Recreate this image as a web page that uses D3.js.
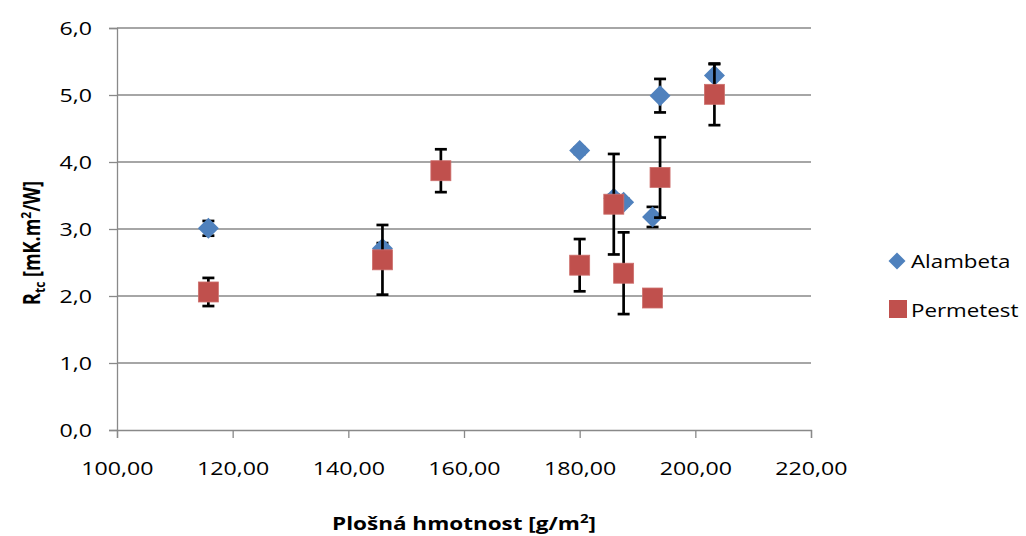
<!DOCTYPE html>
<html>
<head>
<meta charset="utf-8">
<script src="https://cdn.jsdelivr.net/npm/d3@7"></script>
<style>
  html, body { margin: 0; padding: 0; background: #fff; }
  svg { display: block; font-family: "Open Sans", "Noto Sans", sans-serif; }
</style>
</head>
<body>
<svg id="chart" width="1026" height="536"></svg>
<script>
// ---- data ----
const alambetaX   = [115.8, 145.9, 180.0, 185.9, 187.6, 192.6, 193.9, 203.3];
const alambetaY   = [3.01, 2.71, 4.17, 3.46, 3.40, 3.18, 4.99, 5.29];
const alambetaErr = [0.11, 0.08, 0.05, 0.05, 0.05, 0.15, 0.25, 0.17];

const permetestX   = [115.8, 145.9, 156.0, 180.0, 185.9, 187.6, 192.6, 193.9, 203.3];
const permetestY   = [2.06, 2.54, 3.87, 2.46, 3.37, 2.34, 1.97, 3.77, 5.01];
const permetestErr = [0.21, 0.52, 0.32, 0.39, 0.75, 0.61, 0.05, 0.60, 0.46];

const xTicks = [100, 120, 140, 160, 180, 200, 220];
const yTicks = [0, 1, 2, 3, 4, 5, 6];
const seriesNames = ["Alambeta", "Permetest"];
const seriesColors = ["#4F81BD", "#C0504D"];

// ---- layout ----
const svg = d3.select("#chart");
const plot = { left: 117, top: 28, right: 811, bottom: 430 };
const SX = 1.22; // horizontal stretch of the reference text

const x = d3.scaleLinear().domain([100, 220]).range([plot.left, plot.right]);
const y = d3.scaleLinear().domain([0, 6]).range([plot.bottom, plot.top]);

const fmtX = v => d3.format(".2f")(v).replace(".", ",");
const fmtY = v => d3.format(".1f")(v).replace(".", ",");
const gridColor = "#898989";

// gridlines
svg.append("g")
  .selectAll("line")
  .data(yTicks.filter(d => d > 0))
  .join("line")
  .attr("x1", plot.left).attr("x2", plot.right)
  .attr("y1", d => y(d)).attr("y2", d => y(d))
  .attr("stroke", gridColor).attr("stroke-width", 1.3);

// y axis
const yAxis = svg.append("g")
  .attr("transform", `translate(${plot.left},0)`)
  .call(d3.axisLeft(y).tickValues(yTicks).tickFormat(fmtY).tickSize(8).tickPadding(17));
// x axis
const xAxis = svg.append("g")
  .attr("transform", `translate(0,${plot.bottom})`)
  .call(d3.axisBottom(x).tickValues(xTicks).tickFormat(fmtX).tickSize(8).tickPadding(23));

[yAxis, xAxis].forEach(g => {
  g.select(".domain").attr("stroke", gridColor).attr("stroke-width", 1.3);
  g.selectAll(".tick line").attr("stroke", gridColor).attr("stroke-width", 1.3);
  g.selectAll(".tick text")
    .attr("fill", "#000")
    .style("font-family", '"Open Sans", sans-serif')
    .style("font-size", "19px");
});
// apply horizontal stretch to tick labels
yAxis.selectAll(".tick text").each(function () {
  const t = d3.select(this);
  const xv = +t.attr("x");
  t.attr("x", 0).attr("transform", `translate(${xv},0) scale(${SX},1)`);
});
xAxis.selectAll(".tick text").each(function () {
  const t = d3.select(this);
  const yv = +t.attr("y");
  t.attr("y", 0).attr("transform", `translate(0,${yv}) scale(${SX},1)`);
});

// series drawing helpers
const alambeta = alambetaX.map((v, i) => ({ x: v, y: alambetaY[i], e: alambetaErr[i] }));
const permetest = permetestX.map((v, i) => ({ x: v, y: permetestY[i], e: permetestErr[i] }));

function errorBars(data) {
  const g = svg.append("g").attr("stroke", "#000").attr("stroke-width", 2.7).attr("fill", "none");
  const cap = 6;
  g.selectAll("line.v").data(data).join("line").attr("class", "v")
    .attr("x1", d => x(d.x)).attr("x2", d => x(d.x))
    .attr("y1", d => y(d.y - d.e)).attr("y2", d => y(d.y + d.e));
  g.selectAll("line.t").data(data).join("line").attr("class", "t")
    .attr("x1", d => x(d.x) - cap).attr("x2", d => x(d.x) + cap)
    .attr("y1", d => y(d.y + d.e)).attr("y2", d => y(d.y + d.e));
  g.selectAll("line.b").data(data).join("line").attr("class", "b")
    .attr("x1", d => x(d.x) - cap).attr("x2", d => x(d.x) + cap)
    .attr("y1", d => y(d.y - d.e)).attr("y2", d => y(d.y - d.e));
}

const diamondPath = r => `M0,${-r}L${r},0L0,${r}L${-r},0Z`;

// Alambeta
errorBars(alambeta);
svg.append("g").selectAll("path").data(alambeta).join("path")
  .attr("d", diamondPath(10.5))
  .attr("transform", d => `translate(${x(d.x)},${y(d.y)})`)
  .attr("fill", seriesColors[0]);

// Permetest
errorBars(permetest);
svg.append("g").selectAll("rect").data(permetest).join("rect")
  .attr("x", d => x(d.x) - 10).attr("y", d => y(d.y) - 10)
  .attr("width", 20).attr("height", 20)
  .attr("fill", seriesColors[1])
  .attr("stroke", "#CD6F6C").attr("stroke-width", 0.8);

// legend
const legend = svg.append("g");
legend.append("path").attr("d", diamondPath(8.5))
  .attr("transform", "translate(897,261)").attr("fill", seriesColors[0]);
legend.append("rect").attr("x", 889).attr("y", 300).attr("width", 18).attr("height", 18)
  .attr("fill", seriesColors[1]);
legend.selectAll("text").data(seriesNames).join("text")
  .attr("transform", (d, i) => `translate(911,${268 + i * 48.5}) scale(${SX},1)`)
  .style("font-size", "18.3px")
  .text(d => d);

// axis titles
const xt = svg.append("text")
  .attr("transform", `translate(464,530) scale(1.25,1)`)
  .attr("text-anchor", "middle")
  .style("font-weight", "bold").style("font-size", "18px");
xt.append("tspan").text("Plošná hmotnost [g/m");
xt.append("tspan").text("2").attr("dy", -7).style("font-size", "12px");
xt.append("tspan").text("]").attr("dy", 7);

const yt = svg.append("text")
  .attr("transform", `translate(40,243) rotate(-90) scale(1,1.25)`)
  .attr("text-anchor", "middle")
  .style("font-weight", "bold").style("font-size", "18px");
yt.append("tspan").text("R");
yt.append("tspan").text("tc").attr("dy", 4).style("font-size", "12px");
yt.append("tspan").text(" [mK.m").attr("dy", -4);
yt.append("tspan").text("2").attr("dy", -7).style("font-size", "12px");
yt.append("tspan").text("/W]").attr("dy", 7);
</script>
</body>
</html>
